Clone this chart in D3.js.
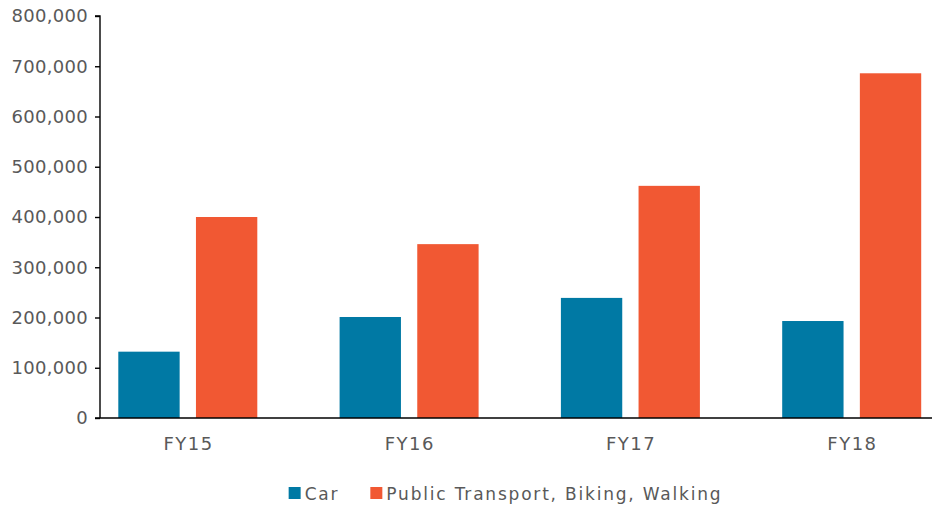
<!DOCTYPE html>
<html>
<head>
<meta charset="utf-8">
<script src="https://cdn.jsdelivr.net/npm/d3@7"></script>
<style>
  body { margin: 0; background: #fff; }
  svg text { font-family: "DejaVu Sans", sans-serif; fill: #595959; }
</style>
</head>
<body>
<svg id="chart" width="932" height="506"></svg>
<script>
var categories = ["FY15", "FY16", "FY17", "FY18"];
var seriesNames = ["Car", "Public Transport, Biking, Walking"];
var carValues = [132000, 201000, 239000, 193000];
var publicValues = [400000, 346000, 462000, 686000];
var yTicks = [0, 100000, 200000, 300000, 400000, 500000, 600000, 700000, 800000];
var colors = ["#0079a4", "#f15833"];

var width = 932, height = 506;
var margin = {top: 16, right: 0, bottom: 88, left: 100};
var svg = d3.select("#chart");

var y = d3.scaleLinear()
  .domain([0, 800000])
  .range([height - margin.bottom, margin.top]);

// groups are spaced a bit wider than the visible plot, so the band scale runs past the right edge
var step = 221.3;
var x0 = d3.scaleBand()
  .domain(categories)
  .range([187.8 - step / 2, 187.8 - step / 2 + step * categories.length]);

var x1 = d3.scaleBand()
  .domain(seriesNames)
  .range([x0.bandwidth() / 2 - 69.5, x0.bandwidth() / 2 + 69.5])
  .paddingInner(0.21);

var rows = categories.map(function(c, i) {
  return {cat: c, values: [carValues[i], publicValues[i]]};
});

svg.append("g")
  .selectAll("g")
  .data(rows)
  .join("g")
    .attr("transform", function(d) { return "translate(" + x0(d.cat) + ",0)"; })
  .selectAll("rect")
  .data(function(d) { return d.values.map(function(v, j) { return {name: seriesNames[j], value: v, j: j}; }); })
  .join("rect")
    .attr("x", function(d) { return x1(d.name); })
    .attr("width", x1.bandwidth())
    .attr("y", function(d) { return y(d.value); })
    .attr("height", function(d) { return y(0) - y(d.value); })
    .attr("fill", function(d) { return colors[d.j]; });

// y axis
var yAxis = svg.append("g")
  .attr("transform", "translate(" + margin.left + ",0)")
  .call(d3.axisLeft(y).tickValues(yTicks).tickSize(5).tickPadding(7)
    .tickFormat(d3.format(",")));
yAxis.select(".domain").attr("stroke", "#000").attr("stroke-width", 1.4)
  .attr("d", "M-5," + y(800000) + "H0V" + y(0));
yAxis.selectAll(".tick line").attr("stroke", "#000").attr("stroke-width", 1.4);
yAxis.selectAll("text").style("font-size", "18px").style("letter-spacing", "0.3px")
  .style("fill", "#595959");

// x axis baseline and labels
svg.append("line")
  .attr("x1", margin.left - 5).attr("x2", width)
  .attr("y1", y(0)).attr("y2", y(0))
  .attr("stroke", "#000").attr("stroke-width", 1.4);

svg.append("g")
  .selectAll("text")
  .data(categories)
  .join("text")
    .attr("x", function(d) { return x0(d) + x0.bandwidth() / 2 + 0.75; })
    .attr("y", y(0) + 32)
    .attr("text-anchor", "middle")
    .style("font-size", "18px")
    .style("letter-spacing", "1.5px")
    .text(function(d) { return d; });

// legend
var legend = svg.append("g");
var lx = 0;
seriesNames.forEach(function(name, i) {
  var item = legend.append("g").attr("transform", "translate(" + lx + ",0)");
  item.append("rect").attr("x", 0).attr("y", -6).attr("width", 12).attr("height", 12)
    .attr("fill", colors[i]);
  var t = item.append("text").attr("x", 16).attr("y", 6.5)
    .style("font-size", "17px").style("letter-spacing", "1.8px").text(name);
  lx += 16 + t.node().getComputedTextLength() + 31;
});
var legendWidth = lx - 31;
legend.attr("transform", "translate(" + (505.5 - legendWidth / 2) + ",493)");
</script>
</body>
</html>
